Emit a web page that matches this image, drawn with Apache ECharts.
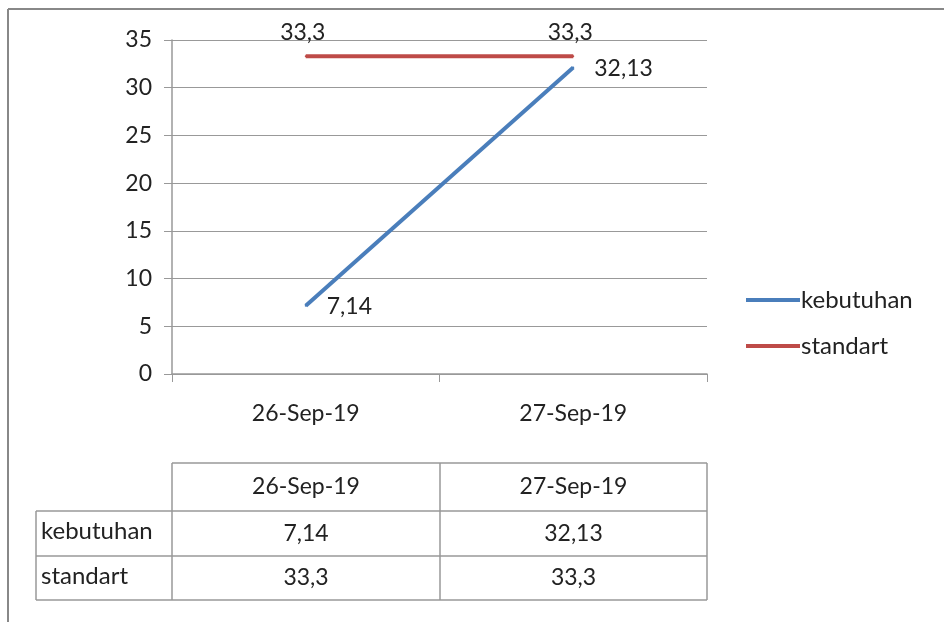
<!DOCTYPE html>
<html>
<head>
<meta charset="utf-8">
<script src="https://cdn.jsdelivr.net/npm/echarts@6/dist/echarts.min.js"></script>
<style>
  html, body { margin: 0; padding: 0; background: #fff; }
  #chart { width: 944px; height: 622px; }
</style>
</head>
<body>
<div id="chart"></div>
<script>
// Dates on the category axis
const categories = ['26-Sep-19', '27-Sep-19'];
// Series names and values
const seriesNames = ['kebutuhan', 'standart'];
const kebutuhan = [7.14, 32.13];
const standart = [33.3, 33.3];
// Value axis range
const yMin = 0, yMax = 35, yStep = 5;

const FONT = 'Lato, "Open Sans", sans-serif';
const FS = 23;
const FS_NAME = 24;
const TEXT = '#222';
const colors = ['#4A7EBB', '#BE4B48'];

const fmt = v => String(v).replace('.', ',');

const chart = echarts.init(document.getElementById('chart'));

// Table below the plot: header row + one row per series
const tableCols = [172, 440, 707];   // column boundaries for the value cells
const tableLeft = 36;
const tableRows = [463, 511, 556, 600];
const seriesValues = [kebutuhan, standart];

const tableGraphics = [];
const lineStyle = { stroke: '#999', lineWidth: 1.5 };
// horizontal rules
tableGraphics.push({ type: 'line', shape: { x1: tableCols[0], y1: tableRows[0], x2: tableCols[2], y2: tableRows[0] }, style: lineStyle });
for (let r = 1; r < tableRows.length; r++) {
  tableGraphics.push({ type: 'line', shape: { x1: tableLeft, y1: tableRows[r], x2: tableCols[2], y2: tableRows[r] }, style: lineStyle });
}
// vertical rules
tableGraphics.push({ type: 'line', shape: { x1: tableLeft, y1: tableRows[1], x2: tableLeft, y2: tableRows[3] }, style: lineStyle });
tableCols.forEach(x => {
  tableGraphics.push({ type: 'line', shape: { x1: x, y1: tableRows[0], x2: x, y2: tableRows[3] }, style: lineStyle });
});
// header cells
categories.forEach((c, i) => {
  tableGraphics.push({
    type: 'text', x: (tableCols[i] + tableCols[i + 1]) / 2, y: (tableRows[0] + tableRows[1]) / 2,
    style: { text: c, font: FS + 'px ' + FONT, fill: TEXT, align: 'center', verticalAlign: 'middle' }
  });
});
// body cells
seriesNames.forEach((name, r) => {
  const yc = (tableRows[r + 1] + tableRows[r + 2]) / 2;
  tableGraphics.push({
    type: 'text', x: tableLeft + 5, y: yc - 2,
    style: { text: name, font: FS_NAME + 'px ' + FONT, fill: TEXT, align: 'left', verticalAlign: 'middle' }
  });
  seriesValues[r].forEach((v, i) => {
    tableGraphics.push({
      type: 'text', x: (tableCols[i] + tableCols[i + 1]) / 2, y: yc,
      style: { text: fmt(v), font: FS + 'px ' + FONT, fill: TEXT, align: 'center', verticalAlign: 'middle' }
    });
  });
});
// outer frame of the chart area
tableGraphics.push({ type: 'line', shape: { x1: 8, y1: 9, x2: 944, y2: 9 }, style: { stroke: '#888', lineWidth: 2 } });
tableGraphics.push({ type: 'line', shape: { x1: 8, y1: 9, x2: 8, y2: 622 }, style: { stroke: '#888', lineWidth: 2 } });

chart.setOption({
  animation: false,
  textStyle: { fontFamily: FONT },
  color: colors,
  grid: { left: 172, top: 40, right: 237, bottom: 248 },
  legend: {
    orient: 'vertical',
    left: 741, top: 283,
    itemGap: 22,
    itemWidth: 54, itemHeight: 4,
    icon: 'rect',
    textStyle: { fontSize: FS_NAME, color: TEXT, fontFamily: FONT, padding: [0, 0, 0, -4] },
    data: seriesNames
  },
  xAxis: {
    type: 'category',
    data: categories,
    boundaryGap: true,
    axisLine: { lineStyle: { color: '#999', width: 1.5 } },
    axisTick: { show: true, length: 8, lineStyle: { color: '#999' } },
    axisLabel: { fontSize: FS, color: TEXT, margin: 28, fontFamily: FONT }
  },
  yAxis: {
    type: 'value',
    min: yMin, max: yMax, interval: yStep,
    axisLine: { show: true, lineStyle: { color: '#999', width: 1.5 } },
    axisTick: { show: true, length: 8, inside: false, lineStyle: { color: '#999' } },
    axisLabel: { fontSize: FS, color: TEXT, margin: 20, fontFamily: FONT },
    splitLine: { lineStyle: { color: '#999', width: 1.2 } }
  },
  series: [
    {
      name: seriesNames[0], type: 'line', data: kebutuhan,
      symbol: 'circle', symbolSize: 2, showSymbol: true,
      itemStyle: { color: colors[0] },
      lineStyle: { width: 4, color: colors[0] },
      label: {
        show: true, position: 'right', distance: 20, offset: [0, 1],
        formatter: p => fmt(p.value), fontSize: FS, color: TEXT, fontFamily: FONT
      },
      z: 3
    },
    {
      name: seriesNames[1], type: 'line', data: standart,
      symbol: 'circle', symbolSize: 2, showSymbol: true,
      itemStyle: { color: colors[1] },
      lineStyle: { width: 4, color: colors[1] },
      label: {
        show: true, position: 'top', distance: 11, offset: [-3, 0],
        formatter: p => fmt(p.value), fontSize: FS, color: TEXT, fontFamily: FONT
      },
      z: 2
    }
  ],
  graphic: tableGraphics
});
</script>
</body>
</html>
